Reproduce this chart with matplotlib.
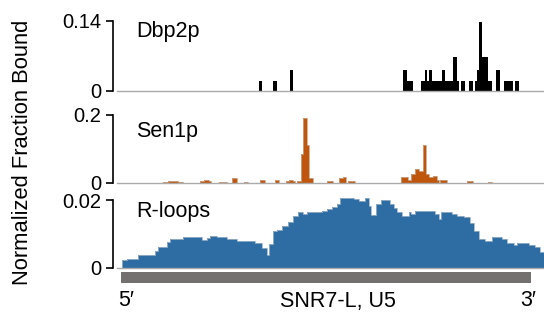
import numpy as np
import matplotlib
matplotlib.use("Agg")
import matplotlib.pyplot as plt

plt.rcParams['font.family'] = ['Liberation Sans', 'DejaVu Sans']

# positions along the gene (arbitrary units), 5' end at 121, 3' end at 531
gene_start, gene_end = 121, 531

# Dbp2p binding profile (step edges and bin values)
dbp2_edges = [258.7, 262, 273.3, 276.7, 290, 293.3, 403.3, 406.7, 412.7, 420.7,
              425, 427, 429.3, 432, 436.7, 442, 445.3, 448.3, 453.3, 457.3,
              459.3, 461.3, 464.7, 469.3, 472.7, 475, 477.3, 478.7, 482, 488.3,
              491.7, 496, 500, 504, 512.7, 514.7, 519.3]
dbp2_vals = [0.021, 0, 0.021, 0, 0.043, 0, 0.043, 0.021, 0, 0.021,
             0.043, 0.021, 0.043, 0.021, 0.021, 0.043, 0.021, 0.021, 0.069, 0.021,
             0, 0.021, 0, 0.021, 0, 0.021, 0.043, 0.139, 0.069, 0.021,
             0, 0.043, 0, 0.021, 0, 0.021]

# Sen1p binding profile
sen1_edges = [163.3, 168.3, 178.3, 183.3, 200, 204, 209, 211, 219.3, 227.3,
              231.7, 236.7, 244.3, 248.3, 260, 264.7, 275.3, 279.3, 286, 289.3,
              293.3, 294.7, 296.7, 301.3, 303.3, 306.7, 309.3, 313.3, 327.3, 332.7,
              338.7, 342.7, 346, 348, 354.7, 401.3, 408, 410.7, 415.3, 418.7,
              422.7, 426, 428.7, 432.7, 436.7, 438.7, 440, 447.3, 466.7, 472.7,
              488.3, 491.7]
sen1_vals = [0.003, 0.004, 0.003, 0, 0.004, 0.007, 0.004, 0, 0.003, 0,
             0.015, 0, 0.003, 0, 0.007, 0, 0.008, 0, 0.004, 0.009,
             0.004, 0, 0.005, 0.084, 0.19, 0.11, 0.015, 0, 0.006, 0,
             0.015, 0.018, 0, 0.004, 0, 0.018, 0.008, 0.026, 0.039, 0.034,
             0.11, 0.025, 0.018, 0.02, 0.008, 0, 0.008, 0, 0.005, 0,
             0.003]

# R-loop signal
rloop_edges = [121.7, 126.7, 138.3, 155, 158.3, 166.7, 170, 183.3, 201.7, 206.7,
               210, 216.7, 226.7, 236.7, 255, 261.7, 266.7, 269.3, 273.3, 276.7,
               281.7, 288.3, 293.3, 298.3, 303.3, 306.7, 322, 327, 332, 337,
               340.3, 353.7, 358.7, 365.3, 368.7, 371.3, 376, 381.3, 390.3, 393.7,
               397, 402, 408.7, 411.3, 415.3, 435.3, 439.3, 441.3, 452, 457,
               463.7, 470.3, 473.7, 478.7, 485.3, 492, 502, 507, 513.7, 517,
               528.7, 535.3, 540.3, 544]
rloop_vals = [0.0022, 0.0025, 0.0036, 0.005, 0.006, 0.0077, 0.0085, 0.009, 0.0082,
              0.0087, 0.0094, 0.009, 0.0085, 0.0079, 0.0072, 0.0058, 0.0037, 0.007,
              0.0107, 0.0112, 0.0122, 0.0134, 0.0152, 0.0163, 0.0158, 0.0163, 0.0167,
              0.0172, 0.0178, 0.0188, 0.0205, 0.0203, 0.0198, 0.0205, 0.0182, 0.0155,
              0.0188, 0.02, 0.0188, 0.0175, 0.0163, 0.0152, 0.0165, 0.0158, 0.0166,
              0.016, 0.0143, 0.0165, 0.016, 0.0152, 0.015, 0.0133, 0.0107, 0.0085,
              0.008, 0.009, 0.0085, 0.0073, 0.0067, 0.0073, 0.0068, 0.0062, 0.0047]

W, H = 544, 320
fig = plt.figure(figsize=(W / 100, H / 100), dpi=100)


def px_axes(x0, ytop, x1, ybot):
    return fig.add_axes([x0 / W, 1 - ybot / H, (x1 - x0) / W, (ybot - ytop) / H])


xlim = (117, 544)
panels = [
    (px_axes(117, 21, 544, 91), dbp2_edges, dbp2_vals, 'black', None, 0.14, '0.14', 'Dbp2p', 0.775),
    (px_axes(117, 115, 544, 182.7), sen1_edges, sen1_vals, '#C0560C', '#c9a58c', 0.2, '0.2', 'Sen1p', 0.68),
    (px_axes(117, 200, 544, 267.5), rloop_edges, rloop_vals, '#2E6CA4', '#9db3c8', 0.02, '0.02', 'R-loops', 0.752),
]

for ax, edges, vals, col, ecol, ymax, toplab, name, ty in panels:
    ax.stairs(vals, edges, fill=True, color=col, clip_on=False)
    if ecol is not None:
        ax.stairs(vals, edges, color=ecol, linewidth=0.6, clip_on=False)
    ax.set_xlim(*xlim)
    ax.set_ylim(0, ymax)
    ax.patch.set_alpha(0)
    for s in ['top', 'right']:
        ax.spines[s].set_visible(False)
    ax.spines['bottom'].set_color('#aaaaaa')
    ax.spines['bottom'].set_linewidth(1.0)
    ax.spines['left'].set_position(('outward', 3))
    ax.spines['left'].set_bounds(0, ymax)
    ax.spines['left'].set_linewidth(1.2)
    ax.set_xticks([])
    ax.set_yticks([0, ymax])
    ax.set_yticklabels(['0', toplab])
    ax.tick_params(axis='y', direction='out', length=5, width=1.2, pad=3.5, labelsize=14.5)
    ax.text(136, ty, name, transform=ax.get_xaxis_transform(), fontsize=15.5,
            ha='left', va='baseline')

# gene body
axg = px_axes(117, 272, 544, 283)
axg.barh(0.5, gene_end - gene_start, left=gene_start, height=1, color='#747070')
axg.set_xlim(*xlim)
axg.set_ylim(0, 1)
axg.axis('off')

fig.text(126 / W, 1 - 301 / H, '5\u2032', fontsize=15.5, ha='center', va='center')
fig.text(338 / W, 1 - 301 / H, 'SNR7-L, U5', fontsize=15.5, ha='center', va='center')
fig.text(528 / W, 1 - 301 / H, '3\u2032', fontsize=15.5, ha='center', va='center')
fig.text(23 / W, 1 - 152 / H, 'Normalized Fraction Bound', fontsize=15.8,
         rotation=90, ha='center', va='center')

fig.savefig('out.png', dpi=100)
